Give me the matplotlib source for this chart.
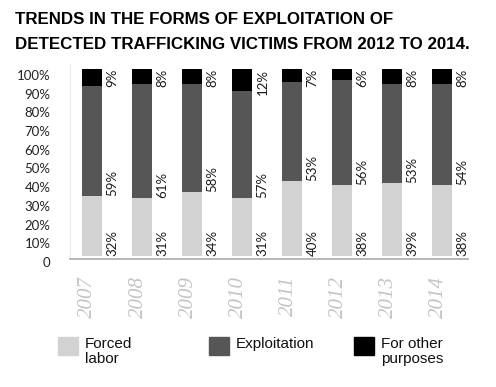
import matplotlib.pyplot as plt
from matplotlib.patches import Rectangle
from matplotlib.transforms import ScaledTranslation

# data
years = ['2007', '2008', '2009', '2010', '2011', '2012', '2013', '2014']
forced = [32, 31, 34, 31, 40, 38, 39, 38]
exploit = [59, 61, 58, 57, 53, 56, 53, 54]
other = [9, 8, 8, 12, 7, 6, 8, 8]
series_names = ['Forced\nlabor', 'Exploitation', 'For other\npurposes']
colors = ['#d2d2d2', '#565656', '#000000']
yticks = [0, 10, 20, 30, 40, 50, 60, 70, 80, 90, 100]
ytick_labels = ['0'] + [f'{v}%' for v in yticks[1:]]

fig = plt.figure(figsize=(4.96, 3.87), dpi=100)
ax = fig.add_axes([0.141, 0.331, 0.803, 0.503])

x = range(len(years))
w = 0.4
ax.bar(x, forced, w, color=colors[0])
ax.bar(x, exploit, w, bottom=forced, color=colors[1])
bottoms = [f + e for f, e in zip(forced, exploit)]
ax.bar(x, other, w, bottom=bottoms, color=colors[2])

# value labels to the right of each bar
lab_font = dict(family='Lato', fontsize=9.5, color='#1a1a1a', rotation=90)
for i in x:
    ax.text(i + 0.41, 0, f'{forced[i]}%', ha='center', va='bottom', **lab_font)
    ax.text(i + 0.41, forced[i], f'{exploit[i]}%', ha='center', va='bottom', **lab_font)
    ax.text(i + 0.41, 100, f'{other[i]}%', ha='center', va='top', **lab_font)

ax.set_xlim(-0.44, 7.52)
ax.set_ylim(-1.6, 102.5)
ax.set_yticks(yticks)
ax.set_yticklabels(ytick_labels, family='Lato', fontsize=9.5, color='#222222')
ax.set_xticks(list(x))
ax.set_xticklabels(years, rotation=90, family='Liberation Serif', style='italic',
                   fontsize=15, color='#c4c4c4')
ax.tick_params(axis='y', length=0, pad=14)
ax.tick_params(axis='x', length=0, pad=12)
off = ScaledTranslation(0, -6 / 100, fig.dpi_scale_trans)
for lbl in ax.get_yticklabels():
    lbl.set_transform(lbl.get_transform() + off)
for lbl in ax.get_xticklabels():
    lbl.set_transform(lbl.get_transform() + ScaledTranslation(-4 / 100, 0, fig.dpi_scale_trans))

for s in ['top', 'right']:
    ax.spines[s].set_visible(False)
ax.spines['bottom'].set_color('#b8b8b8')
ax.spines['bottom'].set_linewidth(1.4)
ax.spines['left'].set_color('#ececec')

# title
fig.text(15 / 496, 1 - 12 / 387, 'TRENDS IN THE FORMS OF EXPLOITATION OF\nDETECTED TRAFFICKING VICTIMS FROM 2012 TO 2014.',
         family='Liberation Sans', weight='bold', fontsize=12.2, va='top', ha='left',
         linespacing=1.8)

# legend drawn by hand
leg_x = [58, 209, 354]
for lx, name, c in zip(leg_x, series_names, colors):
    fig.add_artist(Rectangle((lx / 496, 1 - 355 / 387), 20 / 496, 18 / 387,
                             transform=fig.transFigure, color=c))
    fig.text((lx + 27) / 496, 1 - 337 / 387, name, family='Liberation Sans',
             fontsize=11, va='top', ha='left', color='#111111', linespacing=1.05)

fig.savefig('out.png', dpi=100)
